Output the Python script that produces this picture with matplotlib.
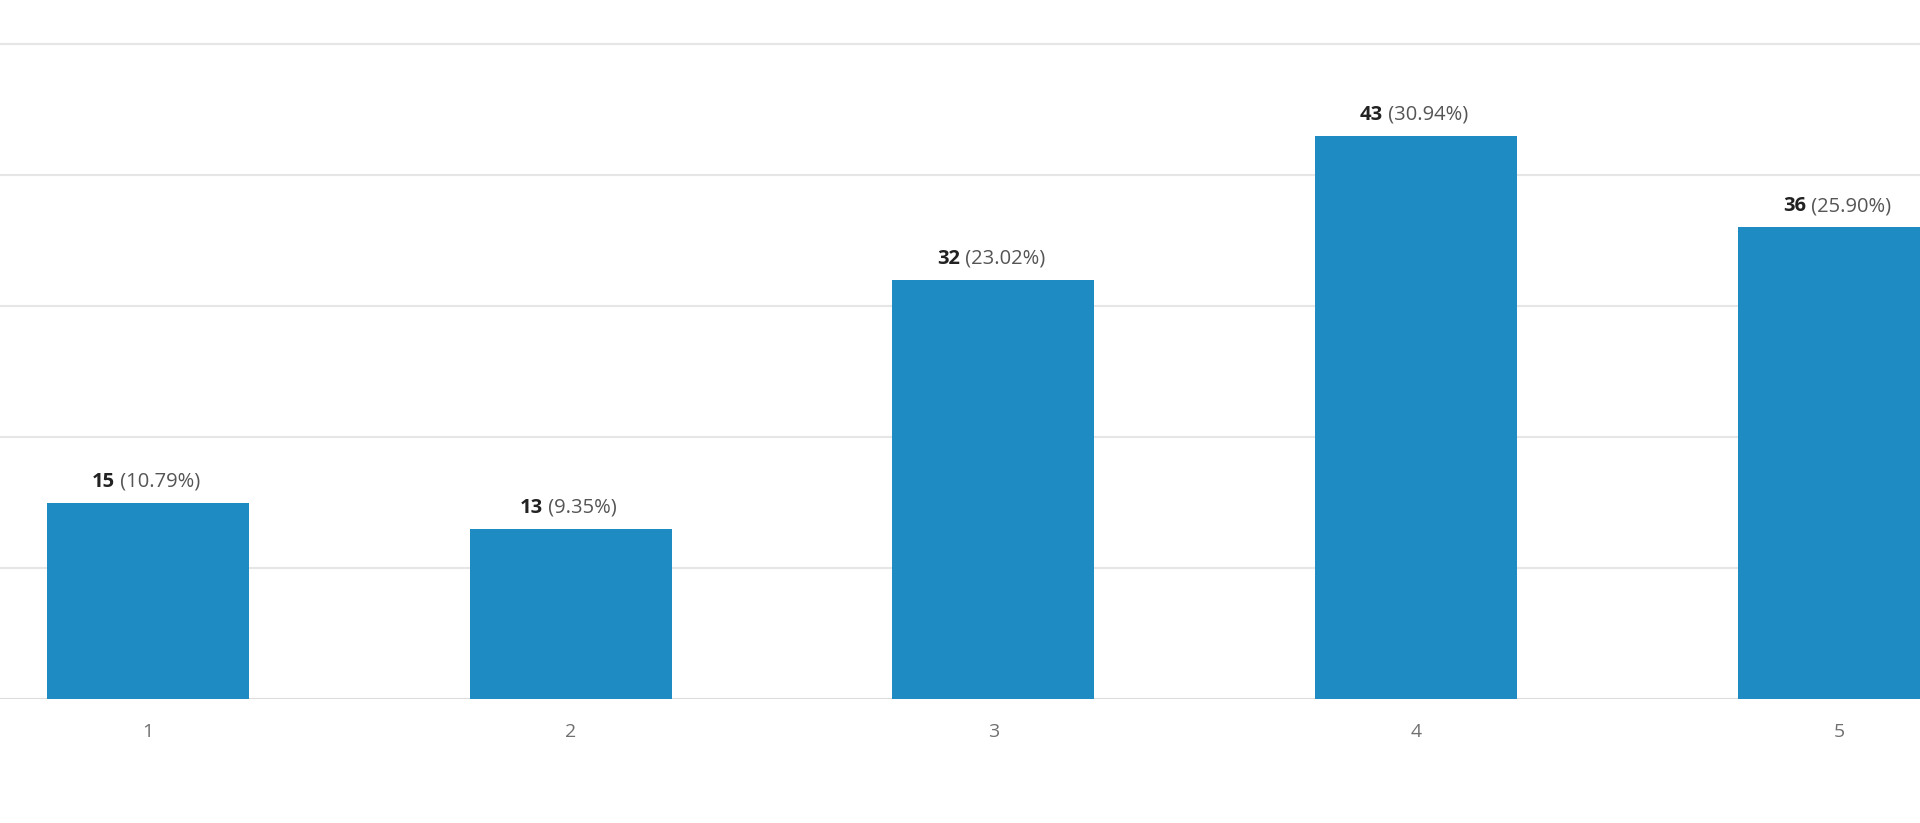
import matplotlib
matplotlib.use("Agg")
import matplotlib.pyplot as plt

# data
categories = ['1', '2', '3', '4', '5']
counts = [15, 13, 32, 43, 36]
percents = ['10.79%', '9.35%', '23.02%', '30.94%', '25.90%']

plt.rcParams['font.family'] = ['Open Sans', 'DejaVu Sans']

fig = plt.figure(figsize=(19.2, 8.23), dpi=100)
ax = fig.add_axes([0, 124 / 823, 1, 699 / 823])

x = list(range(len(categories)))
ax.bar(x, counts, width=0.478, color='#1f8bc3', zorder=3)

ax.set_xlim(-0.35, 4.192)
ax.set_ylim(0, 53.36)
ax.set_yticks([10, 20, 30, 40, 50])
ax.yaxis.grid(True, color='#e6e6e6', linewidth=1.5, zorder=0)
ax.axhline(0, color='#dcdcdc', linewidth=1.5, zorder=1)
ax.set_yticklabels([])
ax.tick_params(axis='y', length=0)
ax.set_xticks(x)
ax.set_xticklabels(categories, fontsize=14, color='#707070')
ax.tick_params(axis='x', length=0, pad=17)
for s in ax.spines.values():
    s.set_visible(False)

# value labels: bold count + normal percentage, centred over the bar
renderer = fig.canvas.get_renderer()
for xi, c, p in zip(x, counts, percents):
    t1 = ax.annotate(str(c), xy=(xi, c), xytext=(0, 16), textcoords='offset pixels',
                     ha='left', va='baseline', fontsize=14.5, fontweight='bold', color='#222222')
    t2 = ax.annotate(' (' + p + ')', xy=(xi, c), xytext=(0, 16), textcoords='offset pixels',
                     ha='left', va='baseline', fontsize=14.5, color='#555555')
    w1 = t1.get_window_extent(renderer).width
    w2 = t2.get_window_extent(renderer).width
    total = w1 + w2
    t1.set_position((-total / 2 - 2, 16))
    t2.set_position((-total / 2 - 2 + w1, 16))

plt.savefig("out.png", dpi=100)
plt.close()
